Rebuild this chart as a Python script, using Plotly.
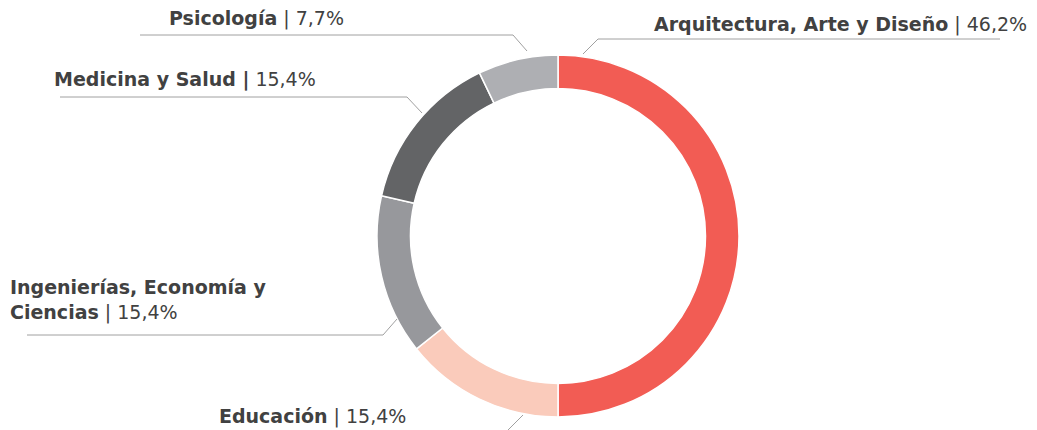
import plotly.graph_objects as go

W, H = 1037, 430
OFF = 8  # page body margin of the rendered html

# ---- data ----
categories = ["Arquitectura, Arte y Diseño", "Educación",
              "Ingenierías, Economía y Ciencias", "Medicina y Salud", "Psicología"]
slice_values = [7, 2, 2, 2, 1]          # slice sizes as drawn in the picture
pct_labels = ["46,2%", "15,4%", "15,4%", "15,4%", "7,7%"]
colors = ["#F25C54", "#FACBBB", "#97989C", "#636466", "#AEAFB3"]

# ---- layout helpers (window pixel -> paper) ----
def px(x):
    return (x - OFF) / W

def py(y):
    return 1 - (y - OFF) / H

cx, cy, R = 558, 236, 181

fig = go.Figure(go.Pie(
    labels=categories,
    values=slice_values,
    marker=dict(colors=colors, line=dict(color="#FFFFFF", width=1.5)),
    hole=0.815,
    sort=False,
    direction="clockwise",
    rotation=0,
    textinfo="none",
    hoverinfo="label",
    showlegend=False,
    domain=dict(x=[px(cx - R), px(cx + R)], y=[py(cy + R), py(cy - R)]),
))

label_cfg = {
    "Arquitectura, Arte y Diseño": dict(
        html="<b>Arquitectura, Arte y Diseño</b> | {p}", x=652, y=24,
        line=[(1000, 39), (598, 39), (583, 54)]),
    "Psicología": dict(
        html="<b>Psicología</b> | {p}", x=167, y=18,
        line=[(140, 35), (513, 35), (527, 51)]),
    "Medicina y Salud": dict(
        html="<b>Medicina y Salud |</b> {p}", x=52, y=80,
        line=[(60, 97), (407, 97), (422, 113)]),
    "Ingenierías, Economía y Ciencias": dict(
        html="<b>Ingenierías, Economía y</b><br><b>Ciencias</b> | {p}", x=8, y=300,
        line=[(27, 335), (383, 335), (397, 319)]),
    "Educación": dict(
        html="<b>Educación</b> | {p}", x=217, y=416,
        line=[(523, 415), (507, 431), (300, 431)]),
}

annotations = []
shapes = []
for cat, p in zip(categories, pct_labels):
    cfg = label_cfg[cat]
    annotations.append(dict(
        text=cfg["html"].format(p=p),
        x=px(cfg["x"]), y=py(cfg["y"]), xref="paper", yref="paper",
        xanchor="left", yanchor="middle", align="left",
        showarrow=False,
        font=dict(family="DejaVu Sans", size=19, color="#414141"),
    ))
    path = "M " + " L ".join(f"{px(a)},{py(b)}" for a, b in cfg["line"])
    shapes.append(dict(type="path", path=path, xref="paper", yref="paper",
                       line=dict(color="#A0A0A0", width=1)))

fig.update_layout(
    width=W, height=H,
    margin=dict(l=0, r=0, t=0, b=0),
    paper_bgcolor="#FFFFFF",
    plot_bgcolor="#FFFFFF",
    annotations=annotations,
    shapes=shapes,
)

fig.write_html("out.html")
